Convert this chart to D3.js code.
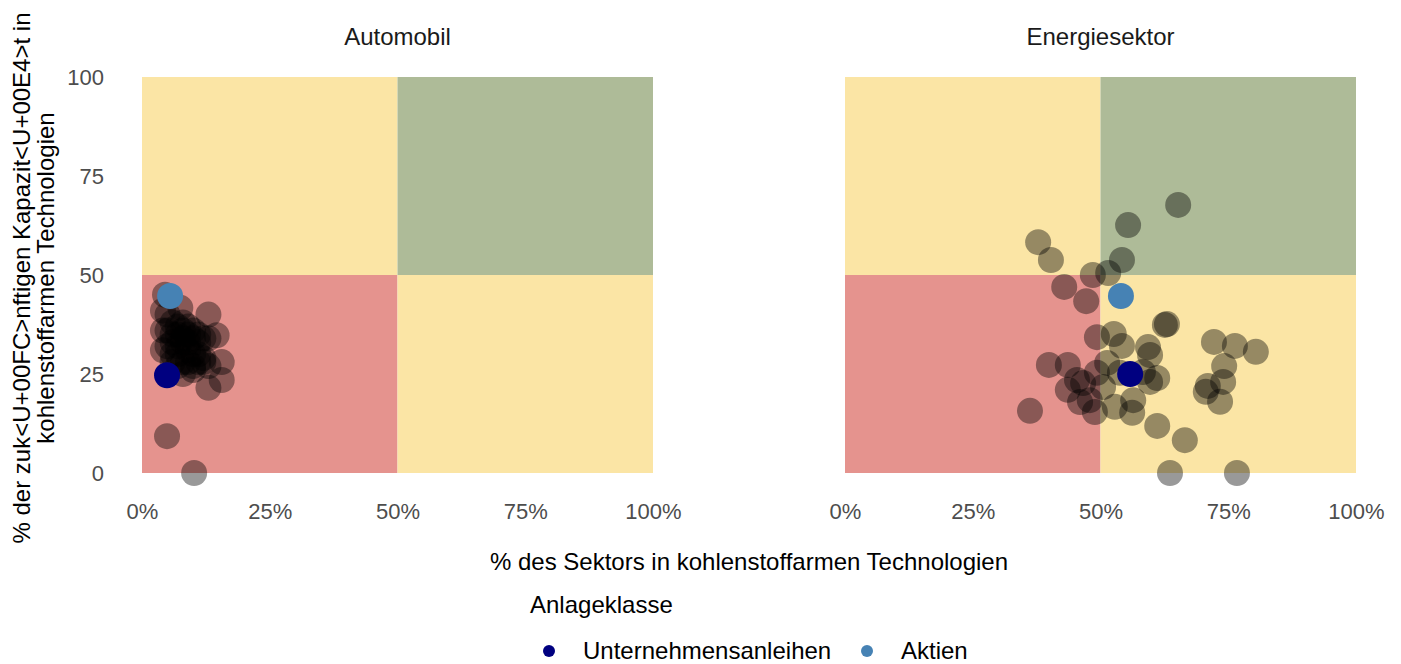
<!DOCTYPE html>
<html>
<head>
<meta charset="utf-8">
<script src="https://cdn.jsdelivr.net/npm/d3@7"></script>
<style>
  body { margin: 0; background: #fff; }
  svg text { font-family: "Liberation Sans", Arial, sans-serif; }
  .tick text { fill: #4d4d4d; }
</style>
</head>
<body>
<div id="chart"></div>
<script>
// facet titles
const sectors = ["Automobil", "Energiesektor"];

// company points per sector (x = % low-carbon today, y = % low-carbon future capacity)
const autoX = [4.5, 5, 7.5, 13, 14.6, 11, 15.6, 15.6, 13, 4.9, 10.2,
  4.1, 4.1, 4.1, 5, 6, 7, 8, 9, 10, 6, 7, 8, 9, 10, 11, 12, 7, 8, 9,
  6, 7, 8, 9, 10, 11, 12, 13, 6, 5, 7, 10, 12, 13, 8, 9, 11, 6, 8, 10];
const autoY = [45, 40, 41.7, 40, 34.8, 35, 28, 23.5, 21.5, 9.3, 0,
  41, 36, 31, 36, 38, 37, 36, 35, 34, 33, 32, 33, 31, 30, 30, 29, 30, 28, 28,
  35, 35, 34, 33, 36, 33, 34, 34, 30, 32, 27, 27, 28, 27, 38, 37, 28, 28, 25, 26];

const energyX = [65.2, 55.4, 54.2, 51.5, 48.5, 47.2, 42.9, 40.3, 37.8, 49.3,
  52.6, 54.2, 59.3, 59.7, 62.6, 63.0, 72.2, 76.3, 80.4, 74.2,
  74.0, 71.0, 70.6, 73.4, 51.3, 53.8, 61.1, 59.7, 58.3, 56.4,
  52.8, 56.2, 48.9, 50.5, 47.9, 61.1, 66.5, 63.6, 76.7, 39.9,
  43.6, 45.4, 43.6, 46.0, 36.2, 46.6, 49.3];
const energyY = [67.7, 62.6, 53.8, 50.5, 50.0, 43.4, 47.0, 53.8, 58.3, 34.3,
  35.1, 32.1, 31.8, 29.8, 37.4, 37.6, 33.1, 32.1, 30.6, 27.0,
  23.0, 22.0, 20.5, 18.0, 27.8, 25.3, 24.0, 23.0, 25.5, 18.4,
  16.7, 15.2, 15.4, 21.7, 18.4, 11.9, 8.3, 0, 0, 27.3,
  27.3, 23.5, 21.0, 17.9, 15.7, 22.7, 25.3];

// portfolio points (Anlageklasse)
const classes = ["Unternehmensanleihen", "Aktien"];
const classColors = ["#000080", "#4682b4"];
const portX = [[4.9, 5.5], [55.8, 54.0]];   // [sector][class]
const portY = [[24.7, 44.7], [25.0, 44.7]];

const xTicks = [0, 25, 50, 75, 100];
const yTicks = [0, 25, 50, 75, 100];

const quadColors = { red: "#e5938e", yellow: "#fbe5a5", green: "#aebb98" };

const W = 1401, H = 664;
const svg = d3.select("#chart").append("svg")
  .attr("width", W).attr("height", H);

const panelLeft = [142, 845];
const panelW = 511;
const plotTop = 77, plotBottom = 473;

const y = d3.scaleLinear().domain([0, 100]).range([plotBottom, plotTop]);

const companies = [
  autoX.map((v, i) => ({ x: v, y: autoY[i] })),
  energyX.map((v, i) => ({ x: v, y: energyY[i] }))
];

sectors.forEach(function(name, s) {
  const x = d3.scaleLinear().domain([0, 100]).range([panelLeft[s], panelLeft[s] + panelW]);
  const g = svg.append("g");

  // quadrants
  const quads = [
    { x0: 0, x1: 50, y0: 50, y1: 100, c: quadColors.yellow },
    { x0: 50, x1: 100, y0: 50, y1: 100, c: quadColors.green },
    { x0: 0, x1: 50, y0: 0, y1: 50, c: quadColors.red },
    { x0: 50, x1: 100, y0: 0, y1: 50, c: quadColors.yellow }
  ];
  g.selectAll("rect.quad").data(quads).enter().append("rect")
    .attr("class", "quad")
    .attr("x", d => x(d.x0))
    .attr("y", d => y(d.y1))
    .attr("width", d => x(d.x1) - x(d.x0))
    .attr("height", d => y(d.y0) - y(d.y1))
    .attr("fill", d => d.c);

  // x axis
  g.append("g")
    .attr("transform", `translate(0,${plotBottom + 30})`)
    .call(d3.axisBottom(x).tickValues(xTicks).tickSize(0).tickPadding(0)
      .tickFormat(d => d + "%"))
    .call(a => a.select(".domain").remove())
    .selectAll("text").attr("dy", "0.71em").attr("font-size", 22);

  // y axis only on first panel
  if (s === 0) {
    g.append("g")
      .attr("transform", `translate(${panelLeft[0] - 38},0)`)
      .call(d3.axisLeft(y).tickValues(yTicks).tickSize(0).tickPadding(0))
      .call(a => a.select(".domain").remove())
      .selectAll("text").attr("font-size", 22);
  }

  // facet title
  g.append("text")
    .attr("x", x(50)).attr("y", 45)
    .attr("text-anchor", "middle")
    .attr("font-size", 24).attr("fill", "#1a1a1a")
    .text(name);

  // companies
  g.selectAll("circle.co").data(companies[s]).enter().append("circle")
    .attr("class", "co")
    .attr("cx", d => x(d.x)).attr("cy", d => y(d.y))
    .attr("r", 13)
    .attr("fill", "#000").attr("fill-opacity", 0.4);

  // portfolio
  g.selectAll("circle.pf").data(classes).enter().append("circle")
    .attr("class", "pf")
    .attr("cx", (d, i) => x(portX[s][i])).attr("cy", (d, i) => y(portY[s][i]))
    .attr("r", 13)
    .attr("fill", (d, i) => classColors[i]);
});

// axis titles
svg.append("text")
  .attr("x", 749).attr("y", 570)
  .attr("text-anchor", "middle").attr("font-size", 24).attr("fill", "#000")
  .text("% des Sektors in kohlenstoffarmen Technologien");

const yTitle = svg.append("text")
  .attr("transform", "translate(0,278) rotate(-90)")
  .attr("text-anchor", "middle").attr("font-size", 24).attr("fill", "#000");
yTitle.append("tspan").attr("x", 0).attr("y", 30)
  .text("% der zuk<U+00FC>nftigen Kapazit<U+00E4>t in");
yTitle.append("tspan").attr("x", 0).attr("y", 54)
  .text("kohlenstoffarmen Technologien");

// legend
svg.append("text")
  .attr("x", 530).attr("y", 613)
  .attr("font-size", 24).attr("fill", "#000")
  .text("Anlageklasse");

const legendX = [549, 867];
const legend = svg.selectAll("g.leg").data(classes).enter().append("g")
  .attr("class", "leg")
  .attr("transform", (d, i) => `translate(${legendX[i]},651)`);
legend.append("circle").attr("r", 6).attr("fill", (d, i) => classColors[i]);
legend.append("text")
  .attr("x", 34).attr("y", 8)
  .attr("font-size", 24).attr("fill", "#000")
  .text(d => d);
</script>
</body>
</html>
